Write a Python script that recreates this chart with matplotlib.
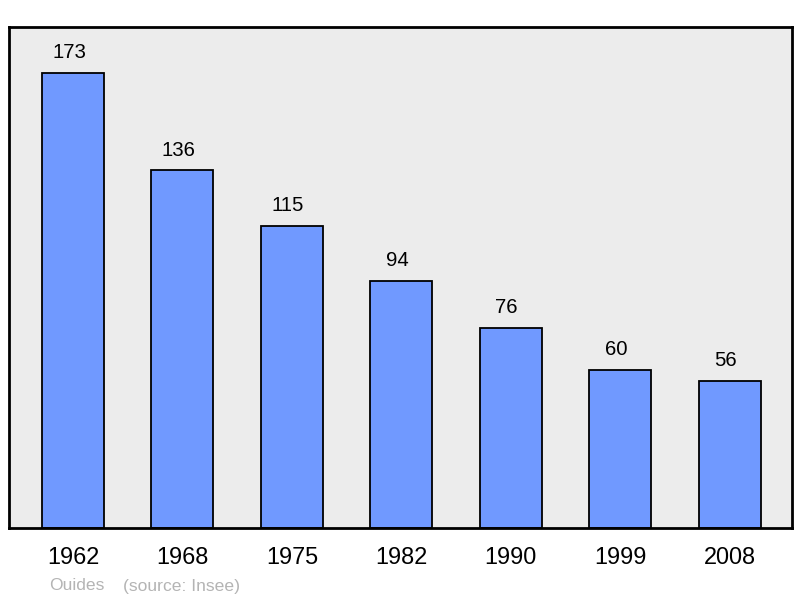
import matplotlib
matplotlib.use("Agg")
import matplotlib.pyplot as plt

years = ["1962", "1968", "1975", "1982", "1990", "1999", "2008"]
population = [173, 136, 115, 94, 76, 60, 56]
commune = "Ouides"
source = "(source: Insee)"

plt.rcParams["font.family"] = ["Liberation Sans", "DejaVu Sans"]

fig = plt.figure(figsize=(8, 5.98), dpi=100)
ax = fig.add_axes([0.01125, 0.117, 0.97875, 0.8378])
ax.set_facecolor("#ececec")

x = range(len(years))
ax.bar(x, population, width=0.567, color="#7099ff", edgecolor="black",
       linewidth=1.3, zorder=2)

# value labels: ~22 px above each bar, nudged a little to the left
for xi, v in zip(x, population):
    ax.annotate(str(v), (xi, v), xytext=(-2.9, 14.6), textcoords="offset points",
                ha="center", va="center", fontsize=14.7)

ax.set_xlim(-0.585, 6.571)
ax.set_ylim(0, 190.5)
ax.set_xticks(list(x))
ax.set_xticklabels(years, fontsize=16.9)
ax.tick_params(axis="x", length=0, pad=13)
ax.set_yticks([])
for s in ax.spines.values():
    s.set_linewidth(2)

fig.text(49 / 800, 1 - 586 / 598, commune, fontsize=12.6, color="#b4b4b4",
         va="center", ha="left")
fig.text(123 / 800, 1 - 586 / 598, source, fontsize=12.6, color="#b4b4b4",
         va="center", ha="left")

fig.savefig("out.png", dpi=100)
